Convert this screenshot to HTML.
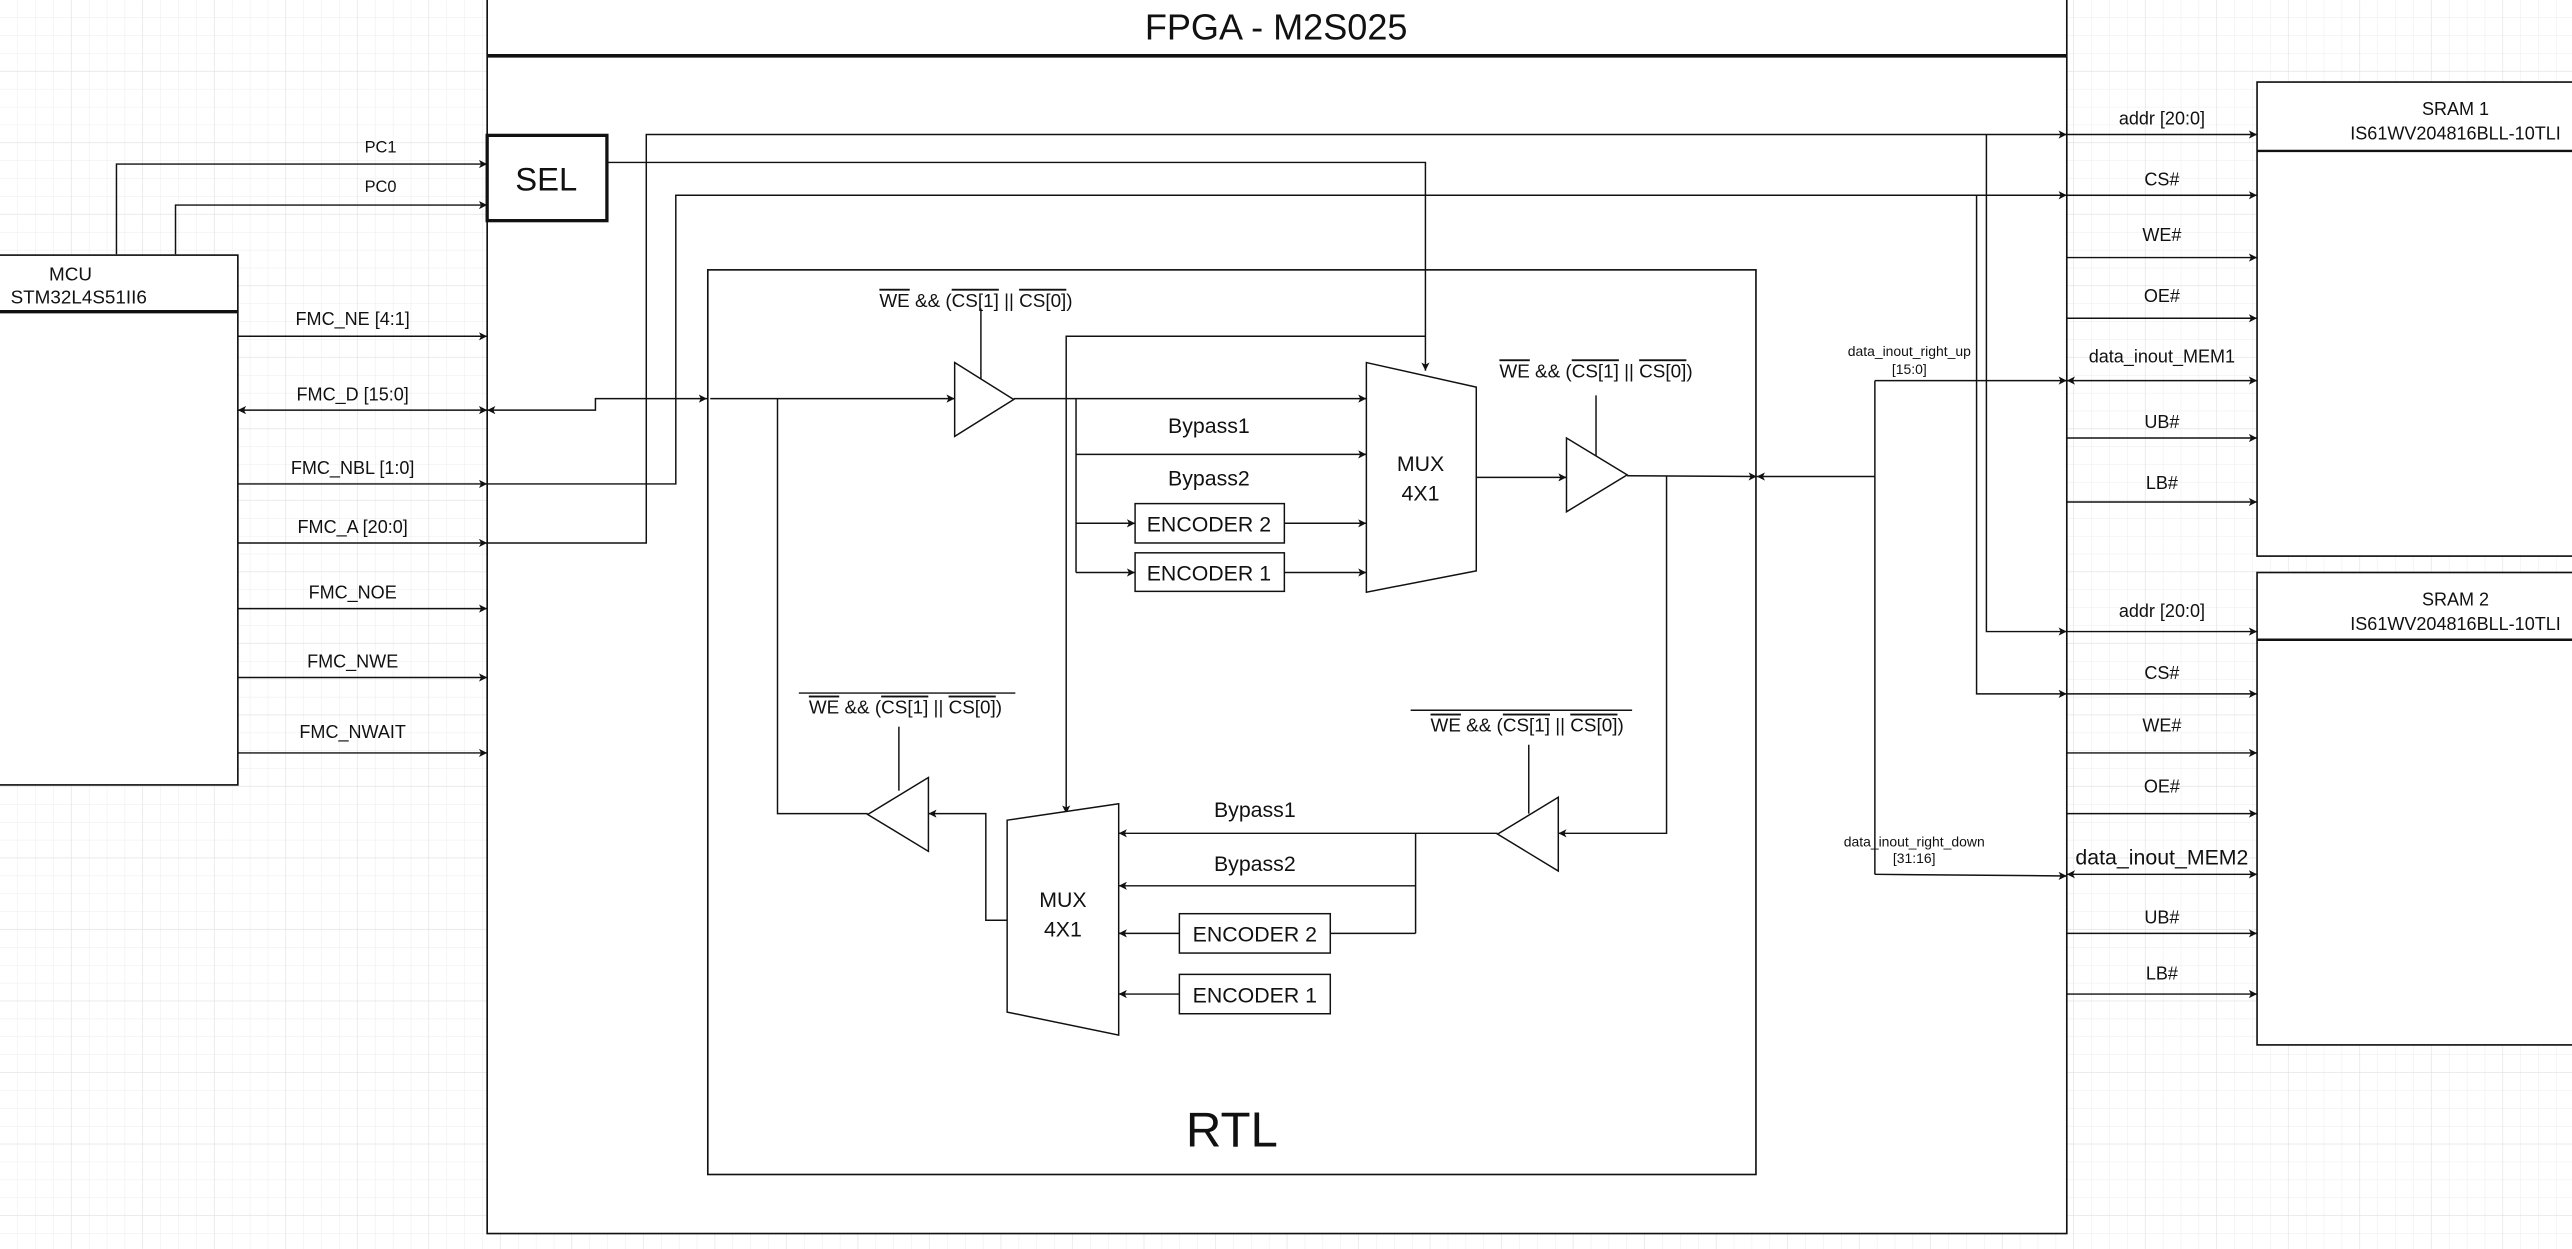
<!DOCTYPE html>
<html><head><meta charset="utf-8"><style>
html,body{margin:0;padding:0;background:#fff;overflow:hidden}
svg{display:block}
text{font-family:"Liberation Sans",Arial,sans-serif;fill:#111}
</style></head><body>
<svg width="2572" height="1249" viewBox="0 0 1568 761.4" xmlns="http://www.w3.org/2000/svg">
<defs>
<pattern id="g" width="10.9" height="10.9" patternUnits="userSpaceOnUse"><path d="M10.9 0V10.9H0" fill="none" stroke="#ececec" stroke-width="0.6"/></pattern>
<pattern id="G" width="43.6" height="43.6" patternUnits="userSpaceOnUse"><rect width="43.6" height="43.6" fill="url(#g)"/><path d="M43.6 0V43.6H0" fill="none" stroke="#dedede" stroke-width="0.7"/></pattern>
<marker id="a" viewBox="0 0 10 10" refX="10" refY="5" markerWidth="5" markerHeight="5" orient="auto-start-reverse" markerUnits="userSpaceOnUse"><path d="M0 0L10 5L0 10L2.5 5z" fill="#111"/></marker>
</defs>
<rect width="1568" height="761.4" fill="url(#G)"/>
<g fill="none" stroke="#111" stroke-width="1">
<!-- FPGA -->
<rect x="297" y="-2" width="963" height="754" fill="#fff"/>
<line x1="297" y1="34" x2="1260" y2="34" stroke-width="2.2"/>
<rect x="297" y="82.5" width="73" height="52" stroke-width="2" fill="#fff"/>
<!-- MCU -->
<rect x="-2" y="155.5" width="147" height="323" fill="#fff"/>
<line x1="-2" y1="190" x2="145" y2="190" stroke-width="2"/>
<!-- SRAMs -->
<rect x="1376" y="50" width="200" height="289" fill="#fff"/>
<line x1="1376" y1="92" x2="1576" y2="92" stroke-width="1.5"/>
<rect x="1376" y="349" width="200" height="288" fill="#fff"/>
<line x1="1376" y1="390" x2="1576" y2="390" stroke-width="1.5"/>
<!-- RTL -->
<rect x="431.5" y="164.5" width="639" height="551.5"/>
</g>
<g fill="none" stroke="#111" stroke-width="0.9">
<!-- PC lines -->
<path d="M71 155V100H297" marker-end="url(#a)"/>
<path d="M107 155V125H297" marker-end="url(#a)"/>
<!-- MCU signals -->
<path d="M145 205H297" marker-end="url(#a)"/>
<path d="M145 250H297" marker-end="url(#a)" marker-start="url(#a)"/>
<path d="M145 295H297" marker-end="url(#a)"/>
<path d="M145 331H297" marker-end="url(#a)"/>
<path d="M145 371H297" marker-end="url(#a)"/>
<path d="M145 413H297" marker-end="url(#a)"/>
<path d="M145 459H297" marker-end="url(#a)"/>
<!-- FMC_D into RTL -->
<path d="M297 250H363V243H431" marker-end="url(#a)" marker-start="url(#a)"/>
<!-- NBL, A -->
<path d="M297 295H412V119H1260" marker-end="url(#a)"/>
<path d="M297 331H394V82H1260" marker-end="url(#a)"/>
<path d="M1211 82V385H1260" marker-end="url(#a)"/>
<path d="M1205 119V423H1260" marker-end="url(#a)"/>
<!-- SEL -->
<path d="M370 99H869V226" marker-end="url(#a)"/>
<path d="M869 205H650V496" marker-end="url(#a)"/>
<!-- upper path -->
<path d="M433 243H582" marker-end="url(#a)"/>
<path d="M582 221L618 243.5L582 266Z" fill="#fff"/>
<path d="M598 188V231"/>
<path d="M618 243H833" marker-end="url(#a)"/>
<path d="M656 243V349"/>
<path d="M656 277H833" marker-end="url(#a)"/>
<path d="M656 319H692" marker-end="url(#a)"/>
<path d="M656 349H692" marker-end="url(#a)"/>
<rect x="692" y="307" width="91" height="24" fill="#fff"/>
<rect x="692" y="337" width="91" height="23.5" fill="#fff"/>
<path d="M783 319H833" marker-end="url(#a)"/>
<path d="M783 349H833" marker-end="url(#a)"/>
<path d="M833 221L900 236V348L833 361Z" fill="#fff"/>
<path d="M900 291H955" marker-end="url(#a)"/>
<path d="M955 267L992 289.5L955 312Z" fill="#fff"/>
<path d="M973 241V278"/>
<path d="M992 290L1071 290.5" marker-end="url(#a)"/>
<path d="M1143 290.5H1071" marker-end="url(#a)"/>
<path d="M1143 232V533"/>
<path d="M1143 232H1260" marker-end="url(#a)"/>
<path d="M1143 533L1260 534" marker-end="url(#a)"/>
<!-- loop down -->
<path d="M1016 290V508H950" marker-end="url(#a)"/>
<path d="M950 486L913 508.5L950 531Z" fill="#fff"/>
<path d="M932 454V496"/>
<path d="M913 508H682" marker-end="url(#a)"/>
<path d="M863 508V569"/>
<path d="M863 540H682" marker-end="url(#a)"/>
<path d="M811 569H863"/>
<rect x="719" y="557" width="92" height="24" fill="#fff"/>
<rect x="719" y="594" width="92" height="24" fill="#fff"/>
<path d="M719 569H682" marker-end="url(#a)"/>
<path d="M719 606H682" marker-end="url(#a)"/>
<path d="M614 500L682 490V631L614 617Z" fill="#fff"/>
<path d="M614 561H601V496H566" marker-end="url(#a)"/>
<path d="M566 474L529 496.5L566 519Z" fill="#fff"/>
<path d="M548 443V482"/>
<path d="M529 496H474V243"/>
<!-- overlines -->
<path d="M487 422.5H619"/>
<path d="M860 433H995"/>
<!-- SRAM1 signals -->
<path d="M1260 82H1376" marker-end="url(#a)"/>
<path d="M1260 119H1376" marker-end="url(#a)"/>
<path d="M1260 157H1376" marker-end="url(#a)"/>
<path d="M1260 194H1376" marker-end="url(#a)"/>
<path d="M1260 232H1376" marker-end="url(#a)" marker-start="url(#a)"/>
<path d="M1260 267H1376" marker-end="url(#a)"/>
<path d="M1260 306H1376" marker-end="url(#a)"/>
<!-- SRAM2 signals -->
<path d="M1260 385H1376" marker-end="url(#a)"/>
<path d="M1260 423H1376" marker-end="url(#a)"/>
<path d="M1260 459H1376" marker-end="url(#a)"/>
<path d="M1260 496H1376" marker-end="url(#a)"/>
<path d="M1260 533H1376" marker-end="url(#a)" marker-start="url(#a)"/>
<path d="M1260 569H1376" marker-end="url(#a)"/>
<path d="M1260 606H1376" marker-end="url(#a)"/>
</g>
<g text-anchor="middle">
<text x="778" y="24" font-size="22">FPGA - M2S025</text>
<text x="333" y="116" font-size="20">SEL</text>
<text x="43" y="171" font-size="11.5">MCU</text>
<text x="48" y="185" font-size="11.5">STM32L4S51II6</text>
<text x="232" y="93" font-size="10">PC1</text>
<text x="232" y="117" font-size="10">PC0</text>
<g font-size="11">
<text x="215" y="198">FMC_NE [4:1]</text>
<text x="215" y="244">FMC_D [15:0]</text>
<text x="215" y="289">FMC_NBL [1:0]</text>
<text x="215" y="325">FMC_A [20:0]</text>
<text x="215" y="365">FMC_NOE</text>
<text x="215" y="407">FMC_NWE</text>
<text x="215" y="450">FMC_NWAIT</text>
</g>
<g font-size="13">
<text x="737" y="264">Bypass1</text>
<text x="737" y="296">Bypass2</text>
<text x="737" y="324">ENCODER 2</text>
<text x="737" y="354">ENCODER 1</text>
<text x="866" y="287">MUX</text>
<text x="866" y="305">4X1</text>
<text x="765" y="498">Bypass1</text>
<text x="765" y="531">Bypass2</text>
<text x="765" y="574">ENCODER 2</text>
<text x="765" y="611">ENCODER 1</text>
<text x="648" y="553">MUX</text>
<text x="648" y="571">4X1</text>
</g>
<text x="751" y="699" font-size="30">RTL</text>
<g font-size="11.5">
<text x="595" y="187"><tspan text-decoration="overline">WE</tspan> &amp;&amp; (<tspan text-decoration="overline">CS[1]</tspan> || <tspan text-decoration="overline">CS[0]</tspan>)</text>
<text x="973" y="230"><tspan text-decoration="overline">WE</tspan> &amp;&amp; (<tspan text-decoration="overline">CS[1]</tspan> || <tspan text-decoration="overline">CS[0]</tspan>)</text>
<text x="552" y="435"><tspan text-decoration="overline">WE</tspan> &amp;&amp; (<tspan text-decoration="overline">CS[1]</tspan> || <tspan text-decoration="overline">CS[0]</tspan>)</text>
<text x="931" y="446"><tspan text-decoration="overline">WE</tspan> &amp;&amp; (<tspan text-decoration="overline">CS[1]</tspan> || <tspan text-decoration="overline">CS[0]</tspan>)</text>
</g>
<g font-size="8.5">
<text x="1164" y="217">data_inout_right_up</text>
<text x="1164" y="228">[15:0]</text>
<text x="1167" y="516">data_inout_right_down</text>
<text x="1167" y="526">[31:16]</text>
</g>
<g font-size="11">
<text x="1497" y="70">SRAM 1</text>
<text x="1497" y="85">IS61WV204816BLL-10TLI</text>
<text x="1497" y="369">SRAM 2</text>
<text x="1497" y="384">IS61WV204816BLL-10TLI</text>
<text x="1318" y="76">addr [20:0]</text>
<text x="1318" y="113">CS#</text>
<text x="1318" y="147">WE#</text>
<text x="1318" y="184">OE#</text>
<text x="1318" y="221">data_inout_MEM1</text>
<text x="1318" y="261">UB#</text>
<text x="1318" y="298">LB#</text>
<text x="1318" y="376">addr [20:0]</text>
<text x="1318" y="414">CS#</text>
<text x="1318" y="446">WE#</text>
<text x="1318" y="483">OE#</text>
<text x="1318" y="527" font-size="13">data_inout_MEM2</text>
<text x="1318" y="563">UB#</text>
<text x="1318" y="597">LB#</text>
</g>
</g>
</svg>
</body></html>
